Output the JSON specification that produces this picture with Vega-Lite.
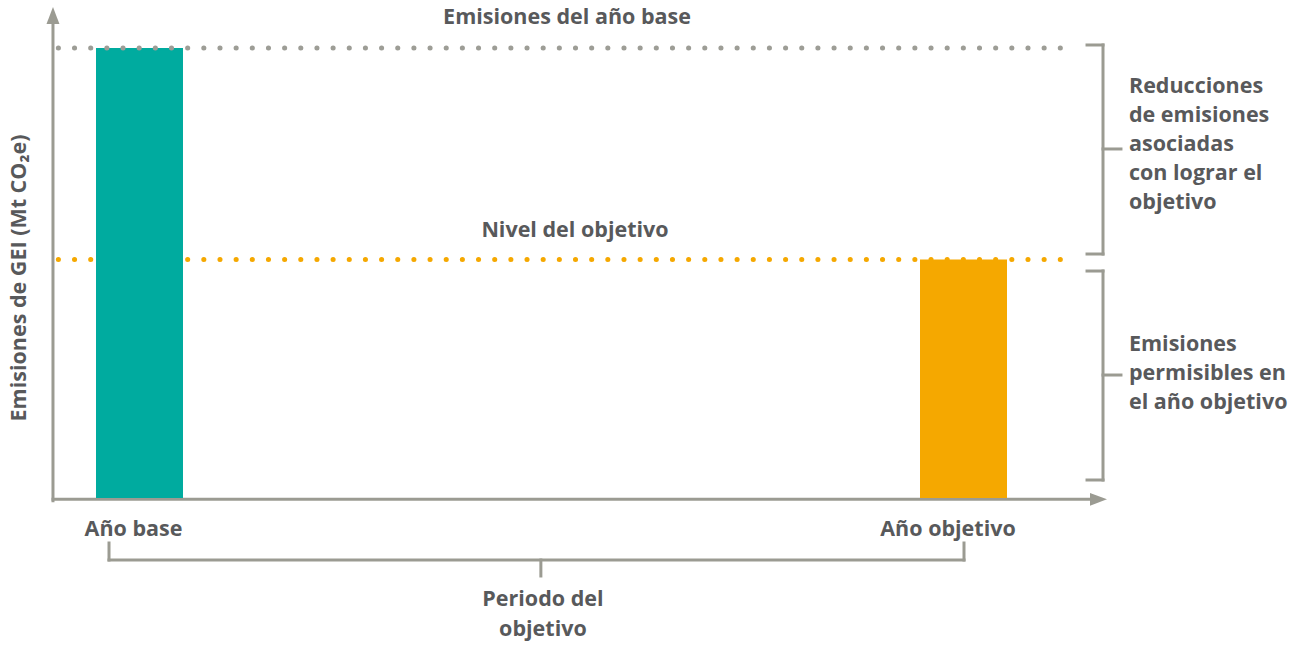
{
  "$schema": "https://vega.github.io/schema/vega-lite/v6.json",
  "width": 1301,
  "height": 645,
  "autosize": "none",
  "padding": 0,
  "background": "white",
  "config": {
    "view": {"stroke": null},
    "text": {"font": "Open Sans", "fontWeight": "bold", "fontSize": 21.5, "color": "#58595b"}
  },
  "datasets": {
    "bars": [
      {"period": "Año base", "year": 0, "emissions": 100},
      {"period": "Año objetivo", "year": 10, "emissions": 53}
    ],
    "levels": [
      {"level": "base", "value": 100, "start": -0.985, "end": 11.25},
      {"level": "objetivo", "value": 53, "start": -0.985, "end": 11.25}
    ],
    "segments": [
      {"x": -1.05, "y": -0.6, "x2": -1.05, "y2": 106},
      {"x": -1.05, "y": -0.3, "x2": 11.55, "y2": -0.3},
      {"x": -0.37, "y": -10.0, "x2": -0.37, "y2": -13.78},
      {"x": -0.37, "y": -13.78, "x2": 10.006, "y2": -13.78},
      {"x": 10.006, "y": -10.0, "x2": 10.006, "y2": -13.78},
      {"x": 4.871, "y": -13.78, "x2": 4.871, "y2": -17.33},
      {"x": 11.499, "y": 100.67, "x2": 11.693, "y2": 100.67},
      {"x": 11.693, "y": 100.67, "x2": 11.693, "y2": 54.22},
      {"x": 11.499, "y": 54.22, "x2": 11.693, "y2": 54.22},
      {"x": 11.693, "y": 77.56, "x2": 11.911, "y2": 77.56},
      {"x": 11.499, "y": 50.44, "x2": 11.693, "y2": 50.44},
      {"x": 11.693, "y": 50.44, "x2": 11.693, "y2": 4.0},
      {"x": 11.499, "y": 4.0, "x2": 11.693, "y2": 4.0},
      {"x": 11.693, "y": 27.33, "x2": 11.911, "y2": 27.33}
    ],
    "arrows": [
      {"axis": "y", "x": -1.05, "y": 107.2},
      {"axis": "x", "x": 11.638, "y": -0.3}
    ],
    "centerText": [
      {"text": "Emisiones del año base", "x": 5.188, "y": 106.67},
      {"text": "Nivel del objetivo", "x": 5.285, "y": 59.33},
      {"text": "Año base", "x": -0.073, "y": -7.11},
      {"text": "Año objetivo", "x": 9.812, "y": -7.11},
      {"text": "Periodo del\nobjetivo", "x": 4.896, "y": -22.67}
    ],
    "leftText": [
      {"text": "Reducciones\nde emisiones\nasociadas\ncon lograr el\nobjetivo", "x": 12.008, "y": 91.33},
      {"text": "Emisiones\npermisibles en\nel año objetivo", "x": 12.008, "y": 34.0}
    ],
    "axisTitle": [
      {"text": "Emisiones de GEI (Mt CO₂e)", "x": -1.45, "y": 48.9}
    ]
  },
  "layer": [
    {
      "data": {"name": "levels"},
      "transform": [{"filter": "datum.level === 'objetivo'"}],
      "mark": {"type": "rule", "color": "#f5a800", "strokeWidth": 5, "strokeDash": [0.1, 16.06], "strokeCap": "round"},
      "encoding": {
        "x": {"field": "start", "type": "quantitative", "axis": null, "scale": {"domain": [-1.69296, 14.09587], "nice": false, "zero": false, "padding": 0}},
        "x2": {"field": "end"},
        "y": {"field": "value", "type": "quantitative", "axis": null, "scale": {"domain": [-32.667, 110.667], "nice": false, "zero": false, "padding": 0}}
      }
    },
    {
      "data": {"name": "segments"},
      "mark": {"type": "rule", "color": "#9b9b92", "strokeWidth": 3, "strokeCap": "square"},
      "encoding": {
        "x": {"field": "x", "type": "quantitative", "axis": null, "scale": {"domain": [-1.69296, 14.09587], "nice": false, "zero": false, "padding": 0}},
        "x2": {"field": "x2"},
        "y": {"field": "y", "type": "quantitative", "axis": null, "scale": {"domain": [-32.667, 110.667], "nice": false, "zero": false, "padding": 0}},
        "y2": {"field": "y2"}
      }
    },
    {
      "data": {"name": "bars"},
      "mark": {"type": "bar", "width": 87},
      "encoding": {
        "x": {"field": "year", "type": "quantitative", "axis": null, "scale": {"domain": [-1.69296, 14.09587], "nice": false, "zero": false, "padding": 0}},
        "y": {"field": "emissions", "type": "quantitative", "axis": null, "scale": {"domain": [-32.667, 110.667], "nice": false, "zero": false, "padding": 0}},
        "y2": {"datum": 0},
        "color": {"field": "period", "type": "nominal", "legend": null, "scale": {"domain": ["Año base", "Año objetivo"], "range": ["#00ab9f", "#f5a800"]}}
      }
    },
    {
      "data": {"name": "levels"},
      "transform": [{"filter": "datum.level === 'base'"}],
      "mark": {"type": "rule", "color": "#9d9d96", "strokeWidth": 5, "strokeDash": [0.1, 16.06], "strokeCap": "round"},
      "encoding": {
        "x": {"field": "start", "type": "quantitative", "axis": null, "scale": {"domain": [-1.69296, 14.09587], "nice": false, "zero": false, "padding": 0}},
        "x2": {"field": "end"},
        "y": {"field": "value", "type": "quantitative", "axis": null, "scale": {"domain": [-32.667, 110.667], "nice": false, "zero": false, "padding": 0}}
      }
    },
    {
      "data": {"name": "arrows"},
      "mark": {"type": "point", "filled": true, "opacity": 1, "size": 289, "color": "#9b9b92"},
      "encoding": {
        "x": {"field": "x", "type": "quantitative", "axis": null, "scale": {"domain": [-1.69296, 14.09587], "nice": false, "zero": false, "padding": 0}},
        "y": {"field": "y", "type": "quantitative", "axis": null, "scale": {"domain": [-32.667, 110.667], "nice": false, "zero": false, "padding": 0}},
        "shape": {"field": "axis", "type": "nominal", "legend": null, "scale": {"domain": ["x", "y"], "range": ["M-1,-0.76L1,0L-1,0.76Z", "M-0.76,1L0,-1L0.76,1Z"]}}
      }
    },
    {
      "data": {"name": "centerText"},
      "mark": {"type": "text", "align": "center", "baseline": "middle", "lineBreak": "\n", "lineHeight": 30},
      "encoding": {
        "x": {"field": "x", "type": "quantitative", "axis": null, "scale": {"domain": [-1.69296, 14.09587], "nice": false, "zero": false, "padding": 0}},
        "y": {"field": "y", "type": "quantitative", "axis": null, "scale": {"domain": [-32.667, 110.667], "nice": false, "zero": false, "padding": 0}},
        "text": {"field": "text"}
      }
    },
    {
      "data": {"name": "leftText"},
      "mark": {"type": "text", "align": "left", "baseline": "middle", "lineBreak": "\n", "lineHeight": 29},
      "encoding": {
        "x": {"field": "x", "type": "quantitative", "axis": null, "scale": {"domain": [-1.69296, 14.09587], "nice": false, "zero": false, "padding": 0}},
        "y": {"field": "y", "type": "quantitative", "axis": null, "scale": {"domain": [-32.667, 110.667], "nice": false, "zero": false, "padding": 0}},
        "text": {"field": "text"}
      }
    },
    {
      "data": {"name": "axisTitle"},
      "mark": {"type": "text", "align": "center", "baseline": "middle", "angle": 270},
      "encoding": {
        "x": {"field": "x", "type": "quantitative", "axis": null, "scale": {"domain": [-1.69296, 14.09587], "nice": false, "zero": false, "padding": 0}},
        "y": {"field": "y", "type": "quantitative", "axis": null, "scale": {"domain": [-32.667, 110.667], "nice": false, "zero": false, "padding": 0}},
        "text": {"field": "text"}
      }
    }
  ]
}
